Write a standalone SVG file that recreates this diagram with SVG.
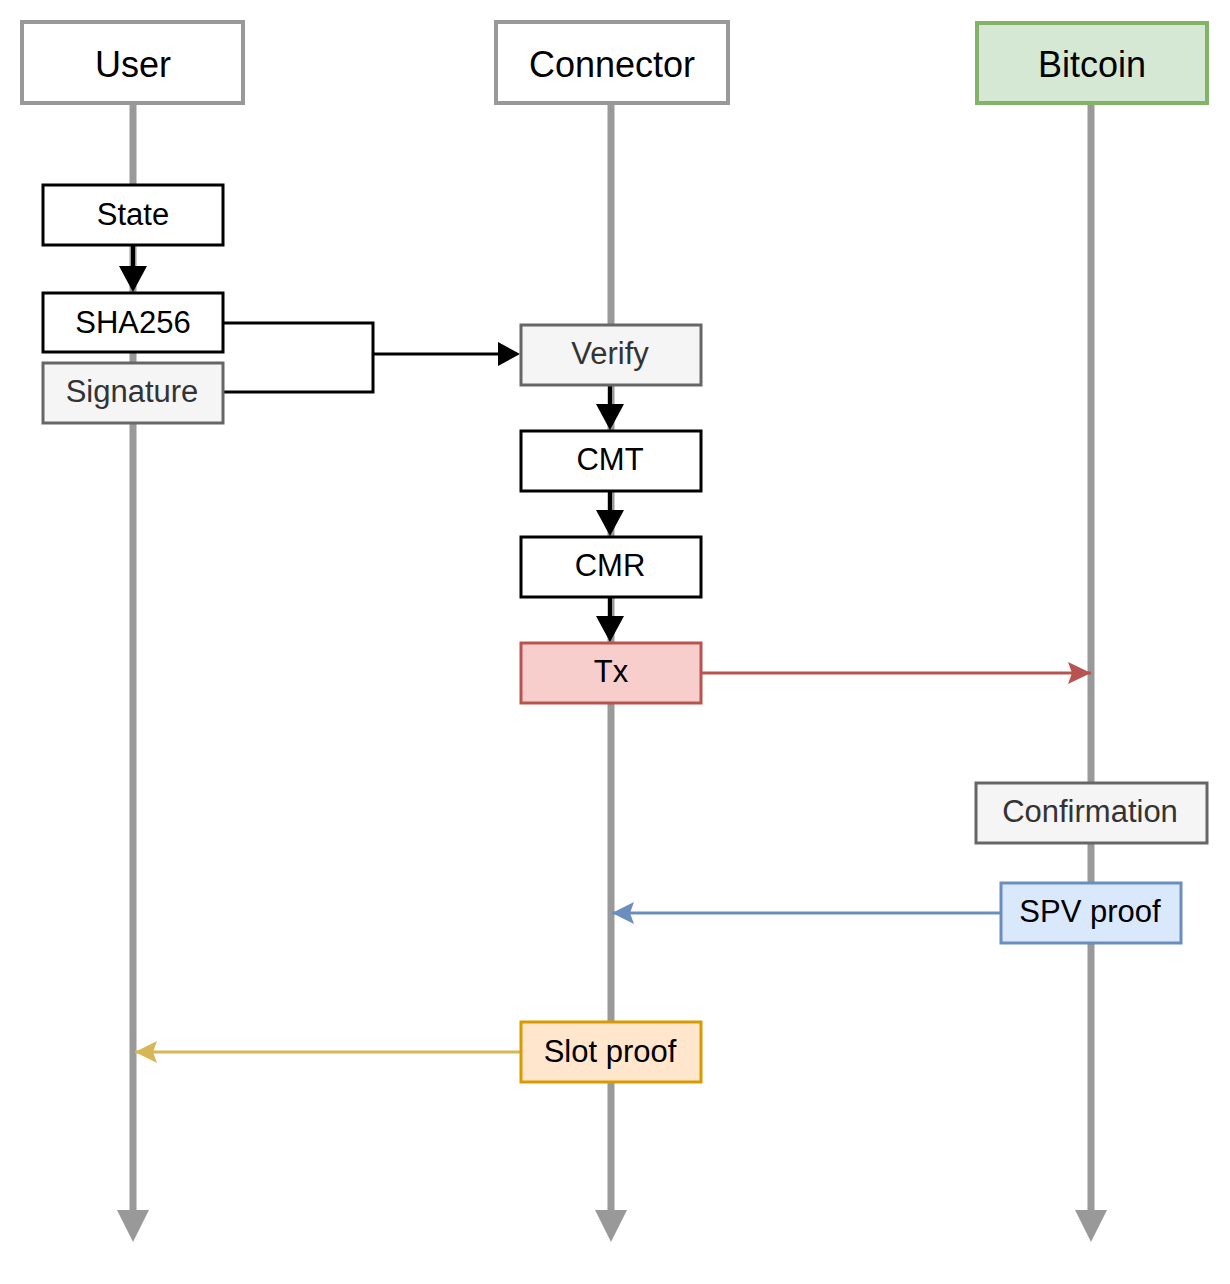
<svg xmlns="http://www.w3.org/2000/svg" width="1230" height="1284" viewBox="0 0 1230 1284">
<style>
text{font-family:"Liberation Sans",Arial,sans-serif;text-anchor:middle;fill:#000}
.hdr{font-size:36px}
.sm{font-size:31px}
.life{stroke:#999999;stroke-width:7;fill:none}
.hbox{fill:#ffffff;stroke:#999999;stroke-width:4}
.blk{fill:#ffffff;stroke:#000000;stroke-width:3}
.gry{fill:#f5f5f5;stroke:#666666;stroke-width:3}
.gt{fill:#333333}
.bl{stroke:#000000;stroke-width:4;fill:none}
.br{stroke:#000000;stroke-width:3;fill:none}
</style>
<defs>
<marker id="mLife" markerUnits="userSpaceOnUse" markerWidth="34" markerHeight="34" refX="0" refY="16" orient="auto" viewBox="0 0 34 34">
<path d="M0,0 L32,16 L0,32 Z" fill="#999999"/>
</marker>
<marker id="mBlk" markerUnits="userSpaceOnUse" markerWidth="30" markerHeight="30" refX="0" refY="14" orient="auto" viewBox="0 0 30 30">
<path d="M0,0 L26,14 L0,28 Z" fill="#000000"/>
</marker>
<marker id="mBlkS" markerUnits="userSpaceOnUse" markerWidth="26" markerHeight="26" refX="0" refY="12" orient="auto" viewBox="0 0 26 26">
<path d="M0,0 L22,12 L0,24 Z" fill="#000000"/>
</marker>
<marker id="mRed" markerUnits="userSpaceOnUse" markerWidth="26" markerHeight="26" refX="23" refY="11" orient="auto" viewBox="0 0 26 26">
<path d="M0,0 L23,11 L0,22 L4,11 Z" fill="#b85450"/>
</marker>
<marker id="mBlue" markerUnits="userSpaceOnUse" markerWidth="26" markerHeight="26" refX="22" refY="11" orient="auto" viewBox="0 0 26 26">
<path d="M0,0 L22,11 L0,22 L4,11 Z" fill="#6c8ebf"/>
</marker>
<marker id="mYel" markerUnits="userSpaceOnUse" markerWidth="26" markerHeight="26" refX="22" refY="11" orient="auto" viewBox="0 0 26 26">
<path d="M0,0 L22,11 L0,22 L4,11 Z" fill="#d6b656"/>
</marker>
</defs>

<g id="lifelines">
<path class="life" d="M133,103 L133,1210" marker-end="url(#mLife)"/>
<path class="life" d="M611,103 L611,1210" marker-end="url(#mLife)"/>
<path class="life" d="M1091,103 L1091,1210" marker-end="url(#mLife)"/>
</g>

<g id="user">
<rect class="hbox" x="22" y="22" width="221" height="81"/>
<text class="hdr" x="133" y="77">User</text>
</g>
<g id="connector">
<rect class="hbox" x="496" y="22" width="232" height="81"/>
<text class="hdr" x="612" y="77">Connector</text>
</g>
<g id="bitcoin">
<rect x="977" y="23" width="230" height="80" fill="#d5e8d4" stroke="#82b366" stroke-width="4"/>
<text class="hdr" x="1092" y="77">Bitcoin</text>
</g>

<g id="connectors">
<path class="bl" d="M133,245 L133,266" marker-end="url(#mBlk)"/>
<path class="br" d="M223,323 L373,323 L373,392 L223,392"/>
<path class="br" d="M373,354 L498,354" marker-end="url(#mBlkS)"/>
<path class="bl" d="M610,385 L610,404" marker-end="url(#mBlk)"/>
<path class="bl" d="M610,491 L610,510" marker-end="url(#mBlk)"/>
<path class="bl" d="M610,597 L610,616" marker-end="url(#mBlk)"/>
<path d="M702,673 L1091,673" stroke="#b85450" stroke-width="3" fill="none" marker-end="url(#mRed)"/>
<path d="M1001,913 L612,913" stroke="#6c8ebf" stroke-width="3" fill="none" marker-end="url(#mBlue)"/>
<path d="M521,1052 L135,1052" stroke="#d6b656" stroke-width="3" fill="none" marker-end="url(#mYel)"/>
</g>

<g id="state">
<rect class="blk" x="43" y="185" width="180" height="60"/>
<text class="sm" x="133" y="225">State</text>
</g>
<g id="sha256">
<rect class="blk" x="43" y="293" width="180" height="59"/>
<text class="sm" x="133" y="333">SHA256</text>
</g>
<g id="signature">
<rect class="gry" x="43" y="363" width="180" height="60"/>
<text class="sm gt" x="132" y="402">Signature</text>
</g>
<g id="verify">
<rect class="gry" x="521" y="325" width="180" height="60"/>
<text class="sm gt" x="610" y="364">Verify</text>
</g>
<g id="cmt">
<rect class="blk" x="521" y="431" width="180" height="60"/>
<text class="sm" x="610" y="470">CMT</text>
</g>
<g id="cmr">
<rect class="blk" x="521" y="537" width="180" height="60"/>
<text class="sm" x="610" y="576">CMR</text>
</g>
<g id="tx">
<rect x="521" y="643" width="180" height="60" fill="#f8cecc" stroke="#b85450" stroke-width="3"/>
<text class="sm" x="611" y="682">Tx</text>
</g>
<g id="confirmation">
<rect class="gry" x="976" y="783" width="231" height="60"/>
<text class="sm gt" x="1090" y="822">Confirmation</text>
</g>
<g id="spv">
<rect x="1001" y="883" width="180" height="60" fill="#dae8fc" stroke="#6c8ebf" stroke-width="3"/>
<text class="sm" x="1090" y="922">SPV proof</text>
</g>
<g id="slot">
<rect x="521" y="1022" width="180" height="60" fill="#ffe6cc" stroke="#d79b00" stroke-width="3"/>
<text class="sm" x="610" y="1062">Slot proof</text>
</g>
</svg>
